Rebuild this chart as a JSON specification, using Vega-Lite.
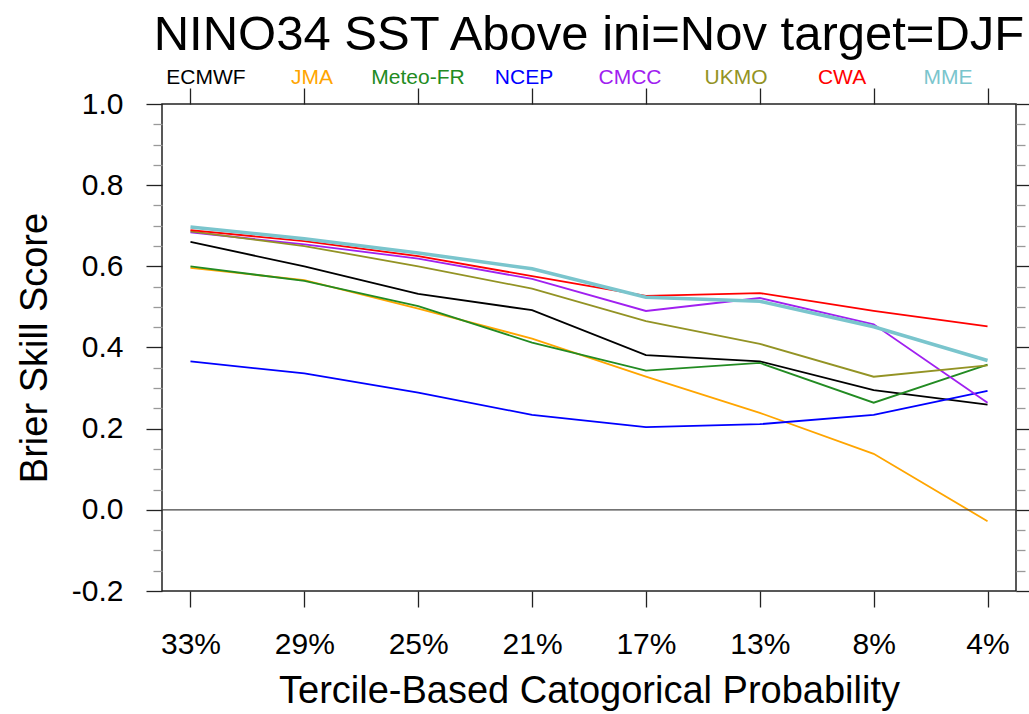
{
  "$schema": "https://vega.github.io/schema/vega-lite/v6.json",
  "width": 854,
  "height": 487,
  "autosize": {"type": "none"},
  "padding": {"left": 162, "top": 104, "right": 13, "bottom": 123},
  "background": "white",
  "config": {
    "view": {"stroke": "#222222", "strokeWidth": 1.5},
    "font": "Liberation Sans"
  },
  "title": {
    "text": "NINO34 SST Above ini=Nov target=DJF",
    "fontSize": 49,
    "fontWeight": "normal",
    "font": "Liberation Sans",
    "color": "black",
    "anchor": "middle",
    "baseline": "alphabetic",
    "offset": -32
  },
  "datasets": {
    "bss": [
      {"model": "ECMWF", "prob": "33%", "value": 0.660},
      {"model": "ECMWF", "prob": "29%", "value": 0.600},
      {"model": "ECMWF", "prob": "25%", "value": 0.532},
      {"model": "ECMWF", "prob": "21%", "value": 0.492},
      {"model": "ECMWF", "prob": "17%", "value": 0.381},
      {"model": "ECMWF", "prob": "13%", "value": 0.366},
      {"model": "ECMWF", "prob": "8%", "value": 0.295},
      {"model": "ECMWF", "prob": "4%", "value": 0.259},
      {"model": "JMA", "prob": "33%", "value": 0.596},
      {"model": "JMA", "prob": "29%", "value": 0.566},
      {"model": "JMA", "prob": "25%", "value": 0.496},
      {"model": "JMA", "prob": "21%", "value": 0.422},
      {"model": "JMA", "prob": "17%", "value": 0.328},
      {"model": "JMA", "prob": "13%", "value": 0.239},
      {"model": "JMA", "prob": "8%", "value": 0.138},
      {"model": "JMA", "prob": "4%", "value": -0.028},
      {"model": "Meteo-FR", "prob": "33%", "value": 0.600},
      {"model": "Meteo-FR", "prob": "29%", "value": 0.564},
      {"model": "Meteo-FR", "prob": "25%", "value": 0.502},
      {"model": "Meteo-FR", "prob": "21%", "value": 0.412},
      {"model": "Meteo-FR", "prob": "17%", "value": 0.343},
      {"model": "Meteo-FR", "prob": "13%", "value": 0.362},
      {"model": "Meteo-FR", "prob": "8%", "value": 0.264},
      {"model": "Meteo-FR", "prob": "4%", "value": 0.358},
      {"model": "NCEP", "prob": "33%", "value": 0.366},
      {"model": "NCEP", "prob": "29%", "value": 0.336},
      {"model": "NCEP", "prob": "25%", "value": 0.289},
      {"model": "NCEP", "prob": "21%", "value": 0.234},
      {"model": "NCEP", "prob": "17%", "value": 0.204},
      {"model": "NCEP", "prob": "13%", "value": 0.211},
      {"model": "NCEP", "prob": "8%", "value": 0.234},
      {"model": "NCEP", "prob": "4%", "value": 0.293},
      {"model": "CMCC", "prob": "33%", "value": 0.684},
      {"model": "CMCC", "prob": "29%", "value": 0.654},
      {"model": "CMCC", "prob": "25%", "value": 0.619},
      {"model": "CMCC", "prob": "21%", "value": 0.569},
      {"model": "CMCC", "prob": "17%", "value": 0.490},
      {"model": "CMCC", "prob": "13%", "value": 0.522},
      {"model": "CMCC", "prob": "8%", "value": 0.457},
      {"model": "CMCC", "prob": "4%", "value": 0.264},
      {"model": "UKMO", "prob": "33%", "value": 0.686},
      {"model": "UKMO", "prob": "29%", "value": 0.650},
      {"model": "UKMO", "prob": "25%", "value": 0.600},
      {"model": "UKMO", "prob": "21%", "value": 0.545},
      {"model": "UKMO", "prob": "17%", "value": 0.465},
      {"model": "UKMO", "prob": "13%", "value": 0.409},
      {"model": "UKMO", "prob": "8%", "value": 0.328},
      {"model": "UKMO", "prob": "4%", "value": 0.356},
      {"model": "CWA", "prob": "33%", "value": 0.689},
      {"model": "CWA", "prob": "29%", "value": 0.662},
      {"model": "CWA", "prob": "25%", "value": 0.625},
      {"model": "CWA", "prob": "21%", "value": 0.576},
      {"model": "CWA", "prob": "17%", "value": 0.527},
      {"model": "CWA", "prob": "13%", "value": 0.534},
      {"model": "CWA", "prob": "8%", "value": 0.490},
      {"model": "CWA", "prob": "4%", "value": 0.452},
      {"model": "MME", "prob": "33%", "value": 0.697},
      {"model": "MME", "prob": "29%", "value": 0.668},
      {"model": "MME", "prob": "25%", "value": 0.633},
      {"model": "MME", "prob": "21%", "value": 0.594},
      {"model": "MME", "prob": "17%", "value": 0.524},
      {"model": "MME", "prob": "13%", "value": 0.514},
      {"model": "MME", "prob": "8%", "value": 0.451},
      {"model": "MME", "prob": "4%", "value": 0.368}
    ],
    "names": [
      {"model": "ECMWF"},
      {"model": "JMA"},
      {"model": "Meteo-FR"},
      {"model": "NCEP"},
      {"model": "CMCC"},
      {"model": "UKMO"},
      {"model": "CWA"},
      {"model": "MME"}
    ]
  },
  "layer": [
    {
      "data": {"name": "bss"},
      "mark": {"type": "line", "clip": false},
      "encoding": {
        "x": {
          "field": "prob",
          "type": "ordinal",
          "scale": {"type": "point", "domain": ["33%", "29%", "25%", "21%", "17%", "13%", "8%", "4%"], "padding": 0.25},
          "axis": {
            "orient": "bottom",
            "title": "Tercile-Based Catogorical Probability",
            "titleFontSize": 38,
            "titleFontWeight": "normal",
            "titleColor": "black",
            "titleFont": "Liberation Sans",
            "titlePadding": 13,
            "labelFontSize": 30,
            "labelFont": "Liberation Sans",
            "labelColor": "black",
            "labelPadding": 22,
            "labelAngle": 0,
            "tickSize": 16,
            "tickColor": "#222222",
            "tickWidth": 1.3,
            "domain": false,
            "grid": false
          }
        },
        "y": {
          "field": "value",
          "type": "quantitative",
          "scale": {"domain": [-0.2, 1.0], "nice": false, "zero": false},
          "axis": {
            "orient": "left",
            "values": [-0.2, -0.15, -0.1, -0.05, 0, 0.05, 0.1, 0.15, 0.2, 0.25, 0.3, 0.35, 0.4, 0.45, 0.5, 0.55, 0.6, 0.65, 0.7, 0.75, 0.8, 0.85, 0.9, 0.95, 1.0],
            "labelExpr": "abs(round(datum.value*100)) % 20 === 0 ? replace(format(datum.value, '.1f'), '\u2212', '-') : ''",
            "title": "Brier Skill Score",
            "titleFontSize": 38,
            "titleFontWeight": "normal",
            "titleColor": "black",
            "titleFont": "Liberation Sans",
            "titlePadding": 17,
            "labelFontSize": 30,
            "labelFont": "Liberation Sans",
            "labelColor": "black",
            "labelPadding": 23,
            "tickSize": {"condition": {"test": "abs(round(datum.value*100)) % 20 === 0", "value": 16}, "value": 9},
            "tickColor": {"condition": {"test": "abs(round(datum.value*100)) % 20 === 0", "value": "#222222"}, "value": "#999999"},
            "tickWidth": 1.3,
            "domain": false,
            "grid": false
          }
        },
        "color": {
          "field": "model",
          "type": "nominal",
          "scale": {
            "domain": ["ECMWF", "JMA", "Meteo-FR", "NCEP", "CMCC", "UKMO", "CWA", "MME"],
            "range": ["#000000", "#FFA500", "#228B22", "#0000FF", "#A020F0", "#939324", "#FF0000", "#7AC5CD"]
          },
          "legend": null
        },
        "strokeWidth": {"condition": {"test": "datum.model === 'MME'", "value": 3.5}, "value": 1.8}
      }
    },
    {
      "data": {"name": "bss"},
      "mark": {"type": "text", "text": ""},
      "encoding": {
        "x": {
          "field": "prob",
          "type": "ordinal",
          "scale": {"type": "point", "domain": ["33%", "29%", "25%", "21%", "17%", "13%", "8%", "4%"], "padding": 0.25},
          "axis": {
            "orient": "top",
            "labels": false,
            "title": null,
            "tickSize": 16,
            "tickColor": "#222222",
            "tickWidth": 1.3,
            "domain": false,
            "grid": false
          }
        },
        "y": {
          "field": "value",
          "type": "quantitative",
          "scale": {"domain": [-0.2, 1.0], "nice": false, "zero": false},
          "axis": {
            "orient": "right",
            "values": [-0.2, -0.15, -0.1, -0.05, 0, 0.05, 0.1, 0.15, 0.2, 0.25, 0.3, 0.35, 0.4, 0.45, 0.5, 0.55, 0.6, 0.65, 0.7, 0.75, 0.8, 0.85, 0.9, 0.95, 1.0],
            "labels": false,
            "title": null,
            "tickSize": {"condition": {"test": "abs(round(datum.value*100)) % 20 === 0", "value": 16}, "value": 9},
            "tickColor": {"condition": {"test": "abs(round(datum.value*100)) % 20 === 0", "value": "#222222"}, "value": "#999999"},
            "tickWidth": 1.3,
            "domain": false,
            "grid": false
          }
        }
      }
    },
    {
      "data": {"values": [{}]},
      "mark": {"type": "rule", "color": "#444444", "strokeWidth": 1.1},
      "encoding": {
        "y": {"datum": 0, "scale": {"domain": [-0.2, 1.0], "nice": false, "zero": false}, "axis": null}
      }
    },
    {
      "data": {"name": "names"},
      "mark": {"type": "text", "fontSize": 21, "baseline": "alphabetic", "align": "center", "font": "Liberation Sans"},
      "encoding": {
        "x": {
          "field": "model",
          "type": "nominal",
          "scale": {"type": "point", "domain": ["ECMWF", "JMA", "Meteo-FR", "NCEP", "CMCC", "UKMO", "CWA", "MME"], "padding": 0.528, "align": 0.393},
          "axis": null
        },
        "y": {"datum": 1.05, "scale": {"domain": [-0.2, 1.0], "nice": false, "zero": false}, "axis": null},
        "text": {"field": "model"},
        "color": {"field": "model", "type": "nominal", "legend": null}
      }
    }
  ],
  "resolve": {
    "scale": {"x": "independent"},
    "axis": {"x": "independent", "y": "independent"}
  }
}
